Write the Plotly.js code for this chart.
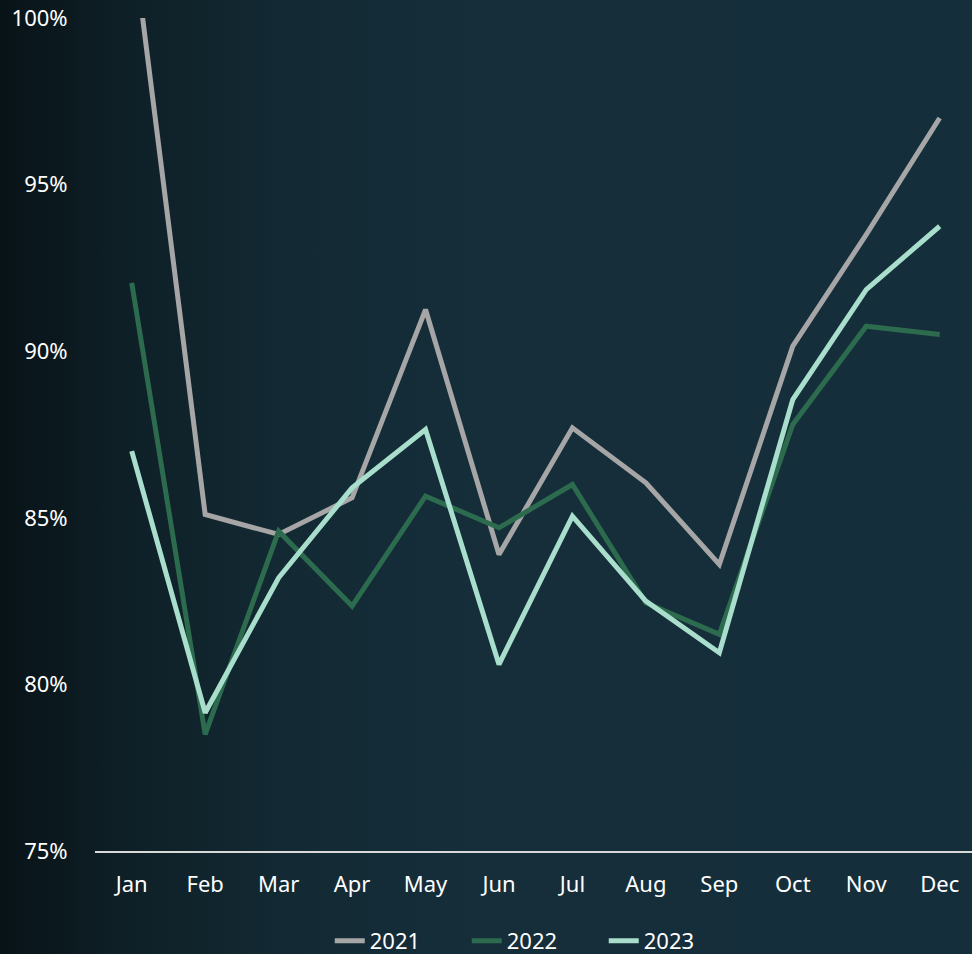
<!DOCTYPE html>
<html>
<head>
<meta charset="utf-8">
<script src="https://cdn.plot.ly/plotly-3.0.1.min.js"></script>
<style>
  html, body { margin: 0; padding: 0; }
  body { width: 972px; height: 954px; overflow: hidden;
    background: linear-gradient(to right, #081317 0%, #0e1f26 12%, #132a34 30%, #152e3a 50%, #152e3b 100%); }
  #chart { width: 972px; height: 954px; }
</style>
</head>
<body>
<div id="chart"></div>
<script>
const months = ["Jan","Feb","Mar","Apr","May","Jun","Jul","Aug","Sep","Oct","Nov","Dec"];
const y2021 = [102.6, 85.1, 84.5, 85.6, 91.25, 83.9, 87.7, 86.05, 83.6, 90.15, 93.5, 97.0];
const y2022 = [92.05, 78.5, 84.6, 82.35, 85.65, 84.7, 86.0, 82.45, 81.5, 87.8, 90.75, 90.5];
const y2023 = [87.0, 79.15, 83.2, 85.9, 87.65, 80.6, 85.05, 82.5, 80.95, 88.55, 91.85, 93.75];
const seriesNames = ["2021", "2022", "2023"];
const yTicks = [75, 80, 85, 90, 95, 100];

const colors = ["#A6A6A6", "#2D6B4F", "#A8DECB"];
const values = [y2021, y2022, y2023];

const traces = values.map((v, i) => ({
  x: months, y: v, name: seriesNames[i], type: "scatter", mode: "lines",
  line: { color: colors[i], width: 5 }
}));

const font = { family: "Noto Sans, Open Sans, sans-serif", color: "#FFFFFF", size: 22 };

const layout = {
  width: 972, height: 954,
  paper_bgcolor: "rgba(0,0,0,0)", plot_bgcolor: "rgba(0,0,0,0)",
  margin: { l: 95, r: 0, t: 18, b: 103, autoexpand: false },
  font: font,
  showlegend: true,
  legend: { orientation: "h", x: 0.502, xanchor: "center", y: -0.108, yanchor: "middle",
            font: font, entrywidth: 92, entrywidthmode: "pixels", traceorder: "normal" },
  xaxis: {
    type: "category", range: [-0.5, 11.44],
    showgrid: false, zeroline: false,
    showline: true, linecolor: "#D9D9D9", linewidth: 1.5,
    ticks: "outside", ticklen: 13, tickcolor: "rgba(0,0,0,0)",
    tickfont: font, fixedrange: true
  },
  yaxis: {
    range: [75, 100], tickvals: yTicks, ticktext: yTicks.map(t => t + "%"),
    showgrid: false, zeroline: false, showline: false,
    ticks: "outside", ticklen: 22, tickcolor: "rgba(0,0,0,0)",
    tickfont: font, fixedrange: true
  }
};

Plotly.newPlot("chart", traces, layout, { displayModeBar: false, staticPlot: true });
</script>
</body>
</html>
